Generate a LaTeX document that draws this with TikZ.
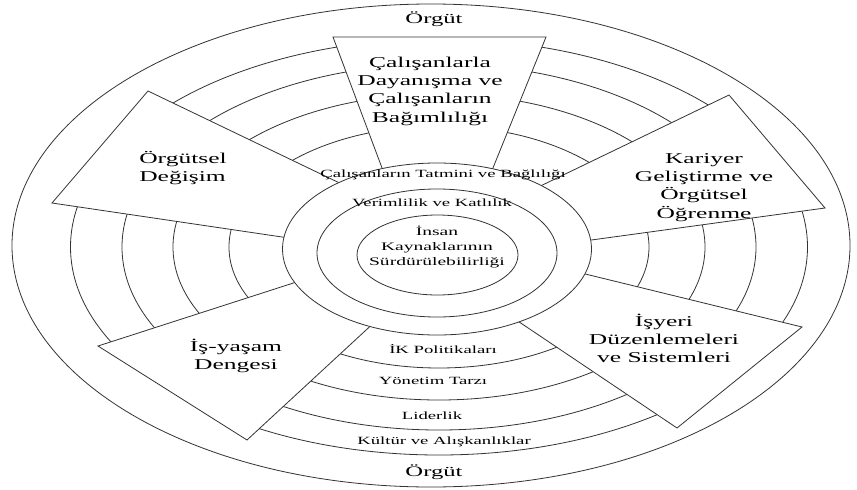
\documentclass[tikz,border=0pt]{standalone}
\usepackage{fontspec}
\usepackage{graphicx}
\setmainfont{Liberation Serif}
% widened multi-line label: #1 = font size, #2 = line pitch, #3 = alignment, #4 = lines
\newcommand{\widelabel}[4]{\scalebox{1.7}[1]{\fontsize{#1}{#2}\selectfont
  \begin{tabular}{@{}#3@{}}#4\end{tabular}}}
\begin{document}
\begin{tikzpicture}[x=1pt,y=-1pt,
  ln/.style={draw=black!80, line width=0.8pt},
  sect/.style={ln, fill=white, line join=miter},
  disc/.style={ln, fill=white},
  lbl/.style={inner sep=0pt, text=black}]
\useasboundingbox (0,0) rectangle (857,490);
\fill[white] (0,0) rectangle (857,490);

% outer boundary and the four outer rings
\draw[ln] (431,245.5) ellipse [x radius=419pt, y radius=241.5pt];
\draw[ln] (439,247) ellipse [x radius=368.5pt, y radius=208pt];
\draw[ln] (439,247) ellipse [x radius=317pt, y radius=183pt];
\draw[ln] (439,247) ellipse [x radius=266pt, y radius=153pt];
\draw[ln] (439,247) ellipse [x radius=210pt, y radius=121pt];

% the six sectors laid over the rings
\draw[sect] (333,37) -- (546,37) -- (480,200) -- (394,200) -- cycle;
\draw[sect] (148,91) -- (350,188) -- (343,246) -- (52,203) -- cycle;
\draw[sect] (729,95) -- (825,208) -- (533,248) -- (528,192) -- cycle;
\draw[sect] (98,346) -- (343,267) -- (404,295) -- (247,440) -- cycle;
\draw[sect] (802,327) -- (677,428) -- (482,297) -- (528,260) -- cycle;

% inner discs
\draw[disc] (437,249) ellipse [x radius=154.5pt, y radius=86pt];
\draw[disc] (437,253) ellipse [x radius=120pt, y radius=64pt];
\draw[disc] (437.5,255) ellipse [x radius=80.5pt, y radius=40pt];

% labels
\node[lbl] (orgtop) at (434,20) {\widelabel{14.5}{17}{c}{Örgüt}};
\node[lbl] (orgbot) at (434,473) {\widelabel{14.5}{17}{c}{Örgüt}};
\node[lbl] (dayanisma) at (430,91) {\widelabel{15}{18.3}{c}{Çalışanlarla\\Dayanışma ve\\Çalışanların\\Bağımlılığı}};
\node[lbl] (degisim) at (183,169) {\widelabel{15}{18.3}{l}{Örgütsel\\Değişim}};
\node[lbl] (kariyer) at (704,187) {\widelabel{15}{18.3}{c}{Kariyer\\Geliştirme ve\\Örgütsel\\Öğrenme}};
\node[lbl] (denge) at (236,357) {\widelabel{15}{18.3}{c}{İş-yaşam\\Dengesi}};
\node[lbl] (isyeri) at (664,341) {\widelabel{15}{18.3}{c}{İşyeri\\Düzenlemeleri\\ve Sistemleri}};
\node[lbl] (insan) at (437,247) {\widelabel{11.5}{15}{c}{İnsan\\Kaynaklarının\\Sürdürülebilirliği}};
\node[lbl] (tatmin) at (443,175) {\widelabel{11}{13}{c}{Çalışanların Tatmini ve Bağlılığı}};
\node[lbl] (verim) at (432,204) {\widelabel{11}{13}{c}{Verimlilik ve Katlılık}};
\node[lbl] (ik) at (443,351) {\widelabel{11}{13}{c}{İK Politikaları}};
\node[lbl] (yonetim) at (433,382) {\widelabel{11}{13}{c}{Yönetim Tarzı}};
\node[lbl] (liderlik) at (432,417) {\widelabel{11}{13}{c}{Liderlik}};
\node[lbl] (kultur) at (444,442) {\widelabel{11}{13}{c}{Kültür ve Alışkanlıklar}};
\end{tikzpicture}
\end{document}
